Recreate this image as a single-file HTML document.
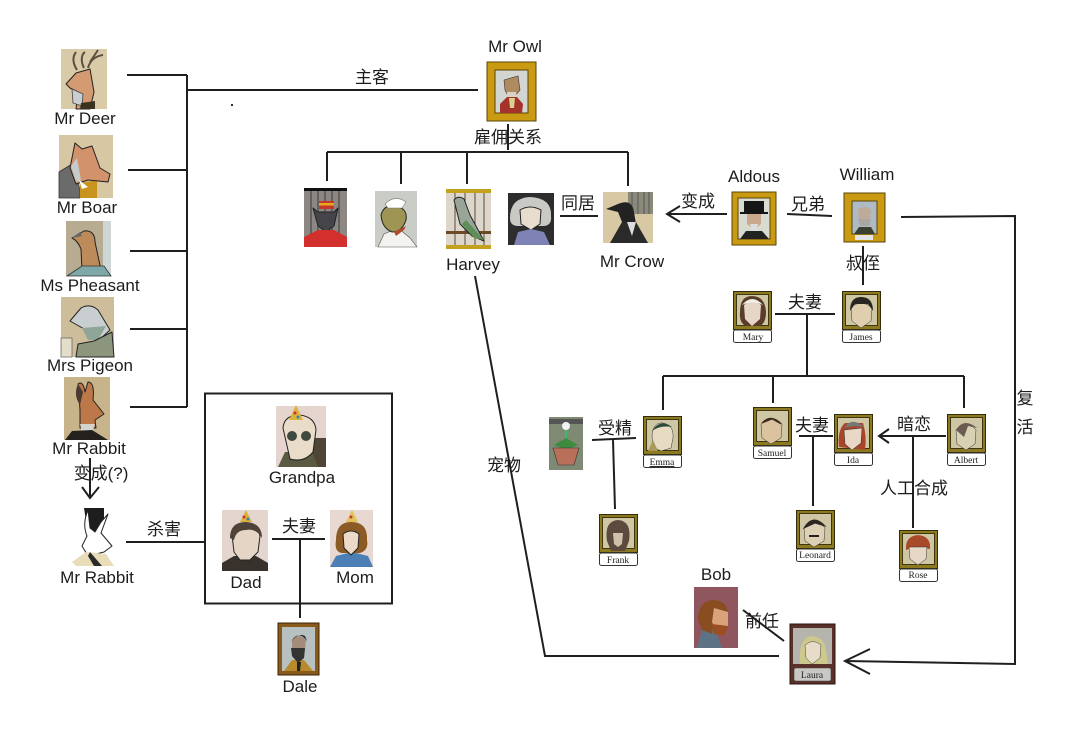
<!DOCTYPE html>
<html lang="zh">
<head>
<meta charset="utf-8">
<title>Rusty Lake diagram</title>
<style>
html,body{margin:0;padding:0;background:#fff;width:1080px;height:732px;overflow:hidden}
svg{display:block}
text{font-family:"Liberation Sans","Noto Sans CJK SC",sans-serif;font-size:17px;fill:#1c1c1c;text-anchor:middle}
.s{font-family:"Liberation Serif",serif;font-size:9.500px;fill:#222}
.l{stroke:#1f1f1f;stroke-width:2;fill:none}
.o{stroke:#222;stroke-width:1;stroke-linejoin:round}
.t{stroke:#333;stroke-width:.6}
</style>
</head>
<body>
<svg width="1080" height="732" viewBox="0 0 1080 732" xmlns="http://www.w3.org/2000/svg">
<defs>
<g id="card">
<rect x="0.500" y="0.500" width="38" height="38" fill="#8d7a20" stroke="#332c0c"/>
<rect x="3.500" y="3.500" width="32" height="31" fill="#cfc7a4" stroke="#3f3710"/>
<rect x="0.500" y="39" width="38" height="12.500" rx="2" fill="#fff" stroke="#333"/>
</g>
<g id="gold">
<rect x="0" y="0" width="44" height="53" fill="#c99a12" stroke="#5a4408"/>
<rect x="6" y="6" width="32" height="41" fill="#d8dbd0" stroke="#5a4408"/>
</g>
</defs>
<rect width="1080" height="732" fill="#fff"/>

<!-- connectors -->
<path class="l" d="M127 75H187M187 75V407M187 90H478M128 170H187M130 251H187M130 329H187M130 407H187"/>
<path class="l" d="M90 458V498M82 487L90 498L99 487"/>
<path class="l" d="M126 542H205"/>
<rect x="205" y="393.500" width="187" height="210" fill="none" stroke="#1f1f1f" stroke-width="2"/>
<path class="l" d="M272 539H325M300 539V618"/>
<path class="l" d="M508 124V150M327 152H628M327 152V181M401 152V184M467 152V184M628 152V186"/>
<path class="l" d="M560 216H598"/>
<path class="l" d="M727 214H667M680 206L667 214L680 222"/>
<path class="l" d="M787 214L832 216M863 246V285"/>
<path class="l" d="M775 314H835M807 314V376M663 376H964M663 376V410M773 376V403M964 376V408"/>
<path class="l" d="M592 440L636 438M613 440L615 509"/>
<path class="l" d="M799 436H833M813 436V506"/>
<path class="l" d="M946 436H880M889 429L879 436L889 443M913 436V528"/>
<path class="l" d="M901 217L1015 216V664L845 661M870 649L845 661L870 674"/>
<path class="l" d="M743 610L784 641"/>
<path class="l" d="M475 276L545 656H779"/>
<rect x="231" y="104" width="2" height="2" fill="#333"/>

<!-- Mr Deer -->
<g>
<rect x="61" y="49" width="46" height="60" fill="#d9caa8"/>
<path d="M77 70C72 62 73 56 76 52M84 68C80 60 82 54 85 52M88 68C90 60 96 56 103 55M90 62L98 50" stroke="#5a5040" stroke-width="2" fill="none"/>
<path class="o" d="M66 84L76 73L90 69L94 92L90 109H76L78 92L70 88Z" fill="#d49a72"/>
<path d="M72 89L83 94L82 106L73 103Z" fill="#c9ced0" stroke="#444" stroke-width=".8"/>
<path d="M81 103L95 101V109H80Z" fill="#3a3320"/>
</g>
<!-- Mr Boar -->
<g>
<rect x="59" y="135" width="54" height="63" fill="#d7c7a2"/>
<path d="M59 172L72 164L80 190V198H59Z" fill="#6b6b6b" stroke="#333" stroke-width=".8"/>
<path d="M80 183L97 180V198H80Z" fill="#c9941e"/>
<path class="o" d="M75 143L82 149L92 146L100 168L110 174L108 182L88 180L76 184L70 168Z" fill="#d1926c"/>
<path d="M71 166L76 182L81 180L77 158Z" fill="#c6cbcb"/>
<path d="M79 180L88 187L82 189Z" fill="#fff"/>
</g>
<!-- Ms Pheasant -->
<g>
<rect x="66" y="221" width="45" height="55" fill="#b7ac92"/>
<rect x="103" y="221" width="8" height="55" fill="#cfd6d6"/>
<path class="o" d="M72 238L84 231Q95 230 95 242L101 270H82L81 249Q78 241 72 238Z" fill="#bd8b5a"/>
<path d="M67 276L82 266L104 266L111 276Z" fill="#7ea8a8" stroke="#333" stroke-width=".8"/>
<path d="M72 238L80 232L82 236Z" fill="#666"/>
</g>
<!-- Mrs Pigeon -->
<g>
<rect x="61" y="297" width="53" height="60" fill="#cdbd9b"/>
<path class="o" d="M70 321L81 308Q90 303 98 310L110 330L99 340L86 330Z" fill="#c9cfd1"/>
<path d="M82 328L106 326L98 340L88 340Z" fill="#8fa597"/>
<path class="o" d="M78 344L94 341L112 332L114 357H76Z" fill="#8b967d"/>
<path d="M61 338H72V357H61Z" fill="#e4ddc8" stroke="#666" stroke-width=".8"/>
</g>
<!-- Mr Rabbit -->
<g>
<rect x="64" y="377" width="46" height="63" fill="#c7b48b"/>
<path class="o" d="M78 384Q83 380 85 392L88 382Q95 382 93 400L104 414L95 420L96 428H80V410Z" fill="#bc7849"/>
<path d="M78 384Q73 395 80 405L83 392Z" fill="#4a3a30"/>
<path d="M80 424H95L92 433H82Z" fill="#d5d5d0"/>
<path d="M65 440L72 431L92 430L108 440Z" fill="#23201e"/>
</g>
<!-- White rabbit -->
<g>
<path d="M84 508H104V522L96 538L88 534Z" fill="#1d1d1d"/>
<path class="o" d="M88 510Q82 524 87 536L82 546L88 556L104 552L112 546L101 533L108 514L101 522L95 532L90 528Z" fill="#fff"/>
<path d="M72 562L86 552L106 554L114 566H76Z" fill="#e8dcb9"/>
<path d="M90 552L102 566H94L88 556Z" fill="#2a2a2a"/>
</g>
<!-- Grandpa -->
<g>
<rect x="276" y="406" width="50" height="61" fill="#e6d5cf"/>
<path d="M308 438H326V467H308Z" fill="#4f4535"/>
<path d="M278 467L285 452H312L318 467Z" fill="#5a5a42"/>
<path class="o" d="M283 428Q284 415 300 415Q315 417 316 430L313 452Q304 463 290 459Z" fill="#e9dcc9"/>
<circle cx="292" cy="436" r="5" fill="#3e4a40"/><circle cx="306" cy="436" r="5" fill="#3e4a40"/>
<path d="M296 405L303 420H289Z" fill="#dcb23c"/>
<circle cx="295" cy="413" r="1.500" fill="#c33"/><circle cx="298" cy="417" r="1.500" fill="#38a"/>
</g>
<!-- Dad -->
<g>
<rect x="222" y="510" width="46" height="61" fill="#e5d5cf"/>
<path d="M222 571V563L234 556H256L268 563V571Z" fill="#38322c"/>
<path class="o" d="M232 535Q232 526 246 526Q258 526 260 536L258 552L250 560H240L234 552Z" fill="#e5d5c5"/>
<path d="M230 538Q230 522 246 522Q262 523 262 538Q256 528 246 530Q236 530 234 540Z" fill="#4e4338"/>
<path d="M246 510L252 522H240Z" fill="#dcb23c"/>
<circle cx="244" cy="517" r="1.500" fill="#c33"/><circle cx="248" cy="519" r="1.500" fill="#38a"/>
</g>
<!-- Mom -->
<g>
<rect x="330" y="510" width="43" height="57" fill="#e8d8d2"/>
<path d="M330 567L336 556L352 552L368 556L373 567Z" fill="#4c7fb6"/>
<path d="M336 540Q336 522 351 522Q368 522 367 540Q369 550 360 553H342Q334 552 336 540Z" fill="#8b5a25"/>
<path class="o" d="M343 534Q351 528 359 534L358 548L351 555L344 548Z" fill="#ecd9c7"/>
<path d="M352 510L358 522H346Z" fill="#e2c35a"/>
<circle cx="351" cy="517" r="1.500" fill="#c33"/>
</g>
<!-- Dale -->
<g>
<rect x="278" y="623" width="41" height="52" fill="#8a5a1c" stroke="#3b2508"/>
<rect x="282" y="627" width="33" height="44" fill="#b7c1c2"/>
<path d="M284 671L292 660H304L313 671Z" fill="#b98a2c"/>
<path d="M292 640Q298 632 306 640L304 658L298 662L292 656Z" fill="#a38c7a"/>
<path d="M291 648L305 648L304 658L298 663L292 656Z" fill="#333"/>
<path d="M291 642Q298 629 307 641L305 636Q298 632 291 642Z" fill="#2b2b2b"/>
<path d="M297 662H301L300 671H297Z" fill="#222"/>
</g>
<!-- Mr Owl -->
<g transform="translate(487,62)">
<rect width="49" height="59" fill="#c99a12" stroke="#5a4408"/>
<rect x="8" y="8" width="33" height="43" fill="#d3d5d0" stroke="#5a4408"/>
<path d="M17 18L31 14L33 28L28 34H21L18 28Z" fill="#b08a60" stroke="#333" stroke-width=".6"/>
<path d="M20 30H29L30 36H20Z" fill="#d8d2c4"/>
<path d="M13 51L13 42L20 35L30 35L36 42L35 51Z" fill="#a5332a"/>
<path d="M22 36H28L27 46H23Z" fill="#d9d08e"/>
</g>
<!-- Rat -->
<g>
<rect x="304" y="188" width="43" height="59" fill="#8c8782"/>
<rect x="304" y="188" width="43" height="3" fill="#111"/>
<path d="M311 191V247M318 191V247M325 191V247M332 191V247M339 191V247" stroke="#555" stroke-width="1.500"/>
<path class="o" d="M313 208L318 212H334L338 208L334 226L326 232L318 226Z" fill="#45444a"/>
<rect x="319" y="201" width="15" height="8" fill="#c4392c"/><rect x="319" y="203" width="15" height="2.500" fill="#e6a81e"/>
<path d="M304 247V237L318 230H334L347 237V247Z" fill="#d32f2c"/>
</g>
<!-- Toad -->
<g>
<rect x="375" y="191" width="42" height="56" fill="#c9cdc6"/>
<path d="M378 247L384 234L398 228L410 238L417 247Z" fill="#f2f2ee" stroke="#555" stroke-width=".6"/>
<path class="o" d="M381 215Q384 204 395 206Q408 208 406 220Q402 232 392 232Q382 228 381 215Z" fill="#9e9555"/>
<path d="M385 204Q395 194 406 202L402 208H388Z" fill="#fff" stroke="#777" stroke-width=".6"/>
<path d="M394 232L406 226L404 230L396 236Z" fill="#b24b2c"/>
</g>
<!-- Parrot -->
<g>
<rect x="446" y="189" width="45" height="60" fill="#dcd6cb"/>
<rect x="446" y="189" width="45" height="4" fill="#c4a21e"/><rect x="446" y="245" width="45" height="4" fill="#c4a21e"/>
<rect x="446" y="231" width="45" height="3" fill="#6b4a25"/>
<path d="M455 193V245M465 193V245M475 193V245M484 193V245" stroke="#5b4a3a" stroke-width="1"/>
<path class="o" d="M454 200Q458 195 464 199L470 215L484 241L472 236L460 224Z" fill="#9aa59a"/>
<path d="M466 220L484 240L474 238L462 224Z" fill="#5e8f58"/>
</g>
<!-- Old lady -->
<g>
<rect x="508" y="193" width="46" height="52" fill="#2d2d2d"/>
<path d="M510 218Q510 198 530 197Q552 198 551 216Q552 226 543 226H518Q510 226 510 218Z" fill="#c9c9c5"/>
<path class="o" d="M520 210Q530 204 541 210L540 224L531 230L521 224Z" fill="#e7ddce"/>
<path d="M514 245L518 232L531 229L544 232L550 245Z" fill="#7e82b4"/>
</g>
<!-- Crow -->
<g>
<rect x="603" y="192" width="50" height="51" fill="#d8c9a4"/>
<rect x="628" y="192" width="25" height="22" fill="#8b8a7a"/>
<path d="M632 192V214M638 192V214M644 192V214M649 192V214" stroke="#555"/>
<path d="M606 209L618 204Q632 198 634 212L636 224L622 222L618 212Z" fill="#222"/>
<path d="M610 243L622 222L636 222L648 243Z" fill="#2a2a2a"/>
<path d="M627 222L636 222L632 236Z" fill="#ddd"/>
</g>
<!-- Aldous -->
<g transform="translate(732,192)">
<use href="#gold"/>
<rect x="12" y="9" width="20" height="12" fill="#151515"/>
<rect x="8" y="20" width="28" height="2" fill="#151515"/>
<path d="M15 22H29V32L22 38L15 32Z" fill="#caa88e"/>
<path d="M18 32H26L24 40H20Z" fill="#ddd"/>
<path d="M8 47L14 39L30 39L37 47Z" fill="#222"/>
</g>
<!-- William -->
<g transform="translate(844,193)">
<rect width="41" height="49" fill="#c99a12" stroke="#5a4408"/>
<rect x="8" y="8" width="25" height="33" fill="#aebbc5" stroke="#5a4408"/>
<path d="M14 17Q20 11 27 17L26 28L20 33L15 28Z" fill="#bfa998"/>
<path d="M14 26H27L25 33H16Z" fill="#a8a8a0"/>
<path d="M10 41L15 34H27L31 41Z" fill="#3b4030"/>
<rect x="11" y="42" width="18" height="5" fill="#e5e5e5"/>
</g>
<!-- Mary -->
<use href="#card" x="733" y="291"/>
<path d="M740 312Q740 296 752 296Q765 296 766 312Q766 323 760 326H746Q739 323 740 312Z" fill="#5a3c2a"/>
<path d="M744 305Q752 298 761 305L760 319L752 326L745 319Z" fill="#e7d5c8"/>
<path d="M742 305Q752 293 763 305Q752 300 742 305Z" fill="#f0f0e6"/>
<text class="s" x="753" y="340">Mary</text>
<!-- James -->
<use href="#card" x="842" y="291"/>
<path d="M851 307Q862 299 872 308L871 321L861 328L852 321Z" fill="#e0cfae" stroke="#333" stroke-width=".5"/>
<path d="M850 311Q850 297 861 297Q873 297 873 311L868 304H855Z" fill="#2a2623"/>
<text class="s" x="861" y="340">James</text>
<!-- Emma -->
<use href="#card" x="643" y="416"/>
<path d="M652 436Q653 422 663 423Q674 425 673 438L671 448L661 451L653 447Z" fill="#e6dcc4" stroke="#333" stroke-width=".5"/>
<path d="M652 431Q660 418 672 427Q660 425 652 431Z" fill="#2f4a3a"/>
<path d="M648 451L653 440L658 451Z" fill="#a89a5a"/>
<text class="s" x="662" y="465" text-decoration="underline">Emma</text>
<!-- Plant -->
<g>
<rect x="549" y="417" width="34" height="53" fill="#7f8a75"/>
<rect x="549" y="419" width="34" height="5" fill="#555"/>
<circle cx="566" cy="426" r="4" fill="#f2f2f2"/>
<path d="M566 430V445" stroke="#2c6" stroke-width="1.500"/>
<path d="M554 445L566 438L578 445L566 450Z" fill="#3e8a3e"/>
<path d="M553 448H579L574 465H558Z" fill="#b9705a" stroke="#333" stroke-width=".6"/>
</g>
<!-- Samuel -->
<use href="#card" x="753" y="407"/>
<path d="M761 424Q772 413 782 424L781 438L771 444L762 438Z" fill="#dcc3a0" stroke="#333" stroke-width=".5"/>
<path d="M762 423Q771 413 781 424L772 419Z" fill="#3a2a20" stroke="#3a2a20"/>
<text class="s" x="772" y="456">Samuel</text>
<!-- Ida -->
<use href="#card" x="834" y="414"/>
<path d="M839 447Q837 430 845 423H863Q867 436 865 450Z" fill="#a8452a"/>
<path d="M844 430L862 428L861 443L852 450L845 444Z" fill="#e9d8c6" stroke="#333" stroke-width=".5"/>
<path d="M844 428Q852 416 864 427Q853 425 844 428Z" fill="#777"/>
<text class="s" x="853" y="463">Ida</text>
<!-- Albert -->
<use href="#card" x="947" y="414"/>
<path d="M956 430Q965 417 976 430L975 444L966 450L957 444Z" fill="#d9d1b4" stroke="#333" stroke-width=".5"/>
<path d="M956 430Q964 417 977 428L968 426L964 437Z" fill="#6a5a50"/>
<text class="s" x="966" y="463">Albert</text>
<!-- Frank -->
<use href="#card" x="599" y="514"/>
<path d="M607 541Q604 521 618 520Q632 521 629 541L625 551H611Z" fill="#5c4a3e"/>
<path d="M613 533H623L622 544L618 547L614 544Z" fill="#cfc2ad"/>
<text class="s" x="618" y="563">Frank</text>
<!-- Leonard -->
<use href="#card" x="796" y="510"/>
<path d="M804 528Q814 515 825 528L824 541L814 547L805 541Z" fill="#ddd0b4" stroke="#333" stroke-width=".5"/>
<path d="M804 528Q813 513 825 526L815 523Z" fill="#2e2620" stroke="#2e2620"/>
<rect x="809" y="535" width="10" height="2" fill="#222"/>
<text class="s" x="815" y="558">Leonard</text>
<!-- Rose -->
<use href="#card" x="899" y="530"/>
<path d="M906 550Q905 536 918 535Q931 536 930 549L925 548L912 548Z" fill="#a8492a"/>
<path d="M909 547H927L926 559L918 565L910 559Z" fill="#e6d8c5" stroke="#333" stroke-width=".5"/>
<text class="s" x="918" y="578">Rose</text>
<!-- Bob -->
<g>
<rect x="694" y="587" width="44" height="61" fill="#90565f"/>
<path d="M697 648L702 630L714 626L722 648Z" fill="#5d7385"/>
<path d="M698 620Q698 602 712 600Q726 600 728 612L718 610L714 620L712 634L702 630Z" fill="#8a4d1f"/>
<path d="M714 608L728 612L728 626L716 630L712 622Z" fill="#d9a27b"/>
<path d="M712 624L728 626L724 636L714 634Z" fill="#9a4f22"/>
</g>
<!-- Laura -->
<g>
<rect x="790" y="624" width="45" height="60" fill="#5a3128" stroke="#2a1712"/>
<rect x="793" y="628" width="39" height="36" fill="#b5b5ad"/>
<path d="M800 664Q798 640 810 636Q824 636 826 650L828 664Z" fill="#cdc98d"/>
<path d="M805 645Q813 638 821 645L820 658L812 664L806 658Z" fill="#e6dcc8" stroke="#444" stroke-width=".5"/>
<rect x="794" y="668" width="37" height="13" rx="2" fill="#c8c8c4" stroke="#444" stroke-width=".6"/>
</g>
<text class="s" x="812" y="678">Laura</text>

<!-- labels -->
<text x="85" y="124">Mr Deer</text>
<text x="87" y="213">Mr Boar</text>
<text x="90" y="291">Ms Pheasant</text>
<text x="90" y="371">Mrs Pigeon</text>
<text x="89" y="454">Mr Rabbit</text>
<text x="101" y="479">变成(?)</text>
<text x="97" y="583">Mr Rabbit</text>
<text x="164" y="535">杀害</text>
<text x="302" y="483">Grandpa</text>
<text x="246" y="588">Dad</text>
<text x="355" y="583">Mom</text>
<text x="299" y="532">夫妻</text>
<text x="300" y="692">Dale</text>
<text x="372" y="83">主客</text>
<text x="515" y="52">Mr Owl</text>
<text x="508" y="143">雇佣关系</text>
<text x="473" y="270">Harvey</text>
<text x="632" y="267">Mr Crow</text>
<text x="578" y="209">同居</text>
<text x="698" y="207">变成</text>
<text x="754" y="182">Aldous</text>
<text x="867" y="180">William</text>
<text x="808" y="210">兄弟</text>
<text x="863" y="269">叔侄</text>
<text x="805" y="308">夫妻</text>
<text x="615" y="434">受精</text>
<text x="812" y="431">夫妻</text>
<text x="914" y="430">暗恋</text>
<text x="914" y="494">人工合成</text>
<text x="1025" y="404">复</text>
<text x="1025" y="433">活</text>
<text x="504" y="471">宠物</text>
<text x="716" y="580">Bob</text>
<text x="762" y="627">前任</text>
</svg>
</body>
</html>
